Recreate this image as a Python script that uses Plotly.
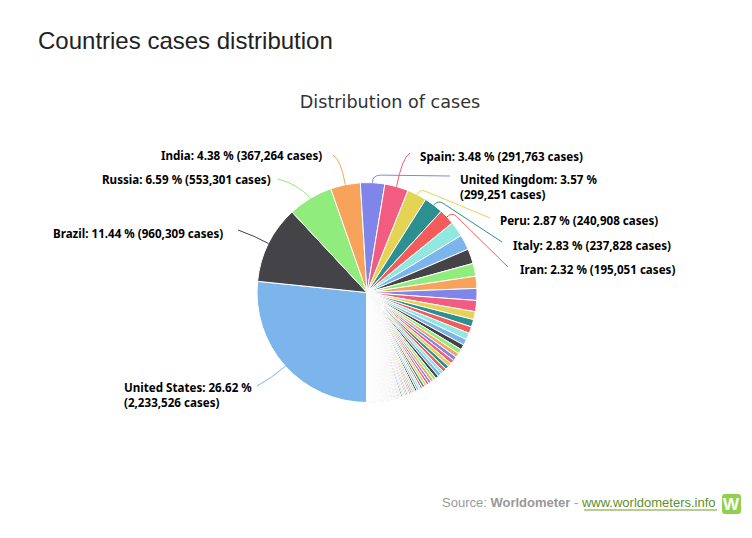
import math
import plotly.graph_objects as go

W, H = 752, 538

countries = ["United States", "Brazil", "Russia", "India", "United Kingdom", "Spain", "Peru", "Italy", "Iran"]
shares = ["26.62", "11.44", "6.59", "4.38", "3.57", "3.48", "2.87", "2.83", "2.32"]
cases = [2233526, 960309, 553301, 367264, 299251, 291763, 240908, 237828, 195051]

# remaining countries are unlabelled in the picture
other_cases = [
    187000, 186000, 183000, 158000, 150000, 147000, 138000, 98000, 92000, 83000,
    82000, 74000, 64000, 58000, 52000, 50000, 48000, 47000, 46000, 44000,
    42000, 40000, 39000, 37000, 36000, 32000, 31000, 31000, 30000, 26000,
    25000, 25000, 24000, 22000, 21000, 20000, 19000, 18000, 17000, 17000,
    17000, 17000, 17000, 16000, 15000, 14000, 13000, 12000, 12000, 12000,
    12000, 12000, 11000, 11000, 10000, 10000, 9500, 9000, 9000, 9000,
    9000, 8500, 8000, 8000, 8000, 7500, 7300, 7000, 6500, 6000,
    6000, 5300, 5200, 5000, 4700, 4100, 4000, 3900, 3800, 3700,
    3600, 3500, 3400, 3300, 3200, 3100, 3000, 2900, 2800, 2700,
    2600, 2500, 2400, 2300, 2200, 2100, 2000, 1950, 1900, 1850,
    1800, 1750, 1700, 1650, 1600, 1550, 1500, 1450, 1400, 1350,
    1300, 1250, 1200, 1180, 1150, 1100, 1080, 1050, 1020, 1000,
    980, 950, 920, 900, 880, 850, 820, 800, 780, 760,
    740, 720, 700, 680, 660, 640, 620, 600, 590, 570,
    550, 530, 510, 490, 470, 450, 430, 410, 390, 370,
    350, 330, 310, 290, 270, 250, 230, 210, 190, 170,
    150, 130, 110, 90, 70, 50, 30, 20, 13, 10,
]
values = cases + other_cases

palette = ["#7cb5ec", "#434348", "#90ed7d", "#f7a35c", "#8085e9",
           "#f15c80", "#e4d354", "#2b908f", "#f45b5b", "#91e8e1"]
colors = [palette[i % len(palette)] for i in range(len(values))]

# pixel layout of the pie and the labels
CX, CY, R = 367, 292.5, 110
# label left edge, label centre y, connector control point, connector end, how far the curve runs
label_pos = {
    "United States": (123, 395, (272, 378), (257, 386), 1),
    "Brazil": (52, 233, (255, 236), (238, 230), 1),
    "Russia": (101, 180, (298, 184), (278, 179), 1),
    "India": (160, 155, (341, 160), (333, 155), 1),
    "United Kingdom": (459, 187, (372, 175), (450, 176), 0.12),
    "Spain": (419, 156, (402, 158), (410, 153), 1),
    "Peru": (499, 221, (420, 189), (490, 218), 0.08),
    "Italy": (512, 245, (438, 200), (502, 242), 0.08),
    "Iran": (519, 269, (452, 212), (508, 267), 0.08),
}
two_line = {"United States", "United Kingdom"}


def px(x):
    return x / W


def py(y):
    return 1 - y / H


fig = go.Figure(go.Pie(
    values=values,
    sort=False,
    direction="clockwise",
    rotation=180,
    textinfo="none",
    hoverinfo="percent+value",
    marker=dict(colors=colors, line=dict(color="#ffffff", width=1)),
    domain=dict(x=[px(CX - R), px(CX + R)], y=[py(CY + R), py(CY - R)]),
    showlegend=False,
))

annotations = []
shapes = []
total = sum(values)
run = 0
for i, name in enumerate(countries):
    mid = 180 + (run + cases[i] / 2) / total * 360
    run += cases[i]
    sx = CX + R * math.sin(math.radians(mid))
    sy = CY - R * math.cos(math.radians(mid))
    lx, ly, ctrl, end, t = label_pos[name]
    qx = ctrl[0] + (end[0] - ctrl[0]) * t
    qy = ctrl[1] + (end[1] - ctrl[1]) * t
    path = f"M {px(sx)} {py(sy)} Q {px(ctrl[0])} {py(ctrl[1])} {px(qx)} {py(qy)} L {px(end[0])} {py(end[1])}"
    shapes.append(dict(type="path", path=path, xref="paper", yref="paper",
                       line=dict(color=colors[i], width=1)))
    if name in two_line:
        text = f"<b>{name}: {shares[i]} %<br>({cases[i]:,} cases)</b>"
    else:
        text = f"<b>{name}: {shares[i]} % ({cases[i]:,} cases)</b>"
    annotations.append(dict(
        x=px(lx), y=py(ly), xref="paper", yref="paper", text=text, showarrow=False,
        xanchor="left", yanchor="middle", align="left", borderpad=0,
        font=dict(family="Noto Sans", size=11.6, color="#000000"),
    ))

# page heading
annotations.append(dict(
    x=px(37), y=py(41), xref="paper", yref="paper", text="Countries cases distribution",
    showarrow=False, xanchor="left", yanchor="middle", borderpad=0,
    font=dict(family="Liberation Sans", size=24, color="#222222"),
))

# source line
annotations.append(dict(
    x=px(717), y=py(502), xref="paper", yref="paper",
    text='Source: <b>Worldometer</b> - <span style="color:#5f8f2a">www.worldometers.info</span>',
    showarrow=False, xanchor="right", yanchor="middle", borderpad=0,
    font=dict(family="Liberation Sans", size=13, color="#999999"),
))
shapes.append(dict(type="line", xref="paper", yref="paper", x0=px(584), x1=px(717), y0=py(510), y1=py(510),
                   line=dict(color="#6d9d20", width=1)))

# worldometer badge
x0, x1, y0, y1, r = 722, 741, 494, 514, 3
badge = (f"M {px(x0 + r)} {py(y0)} L {px(x1 - r)} {py(y0)} Q {px(x1)} {py(y0)} {px(x1)} {py(y0 + r)} "
         f"L {px(x1)} {py(y1 - r)} Q {px(x1)} {py(y1)} {px(x1 - r)} {py(y1)} "
         f"L {px(x0 + r)} {py(y1)} Q {px(x0)} {py(y1)} {px(x0)} {py(y1 - r)} "
         f"L {px(x0)} {py(y0 + r)} Q {px(x0)} {py(y0)} {px(x0 + r)} {py(y0)} Z")
shapes.append(dict(type="path", path=badge, xref="paper", yref="paper", fillcolor="#8fd14f", line=dict(width=0)))
annotations.append(dict(
    x=px(731.5), y=py(504), xref="paper", yref="paper", text="<b>W</b>", showarrow=False,
    xanchor="center", yanchor="middle", borderpad=0,
    font=dict(family="Liberation Sans", size=17, color="#ffffff"),
))

fig.update_layout(
    width=W,
    height=H,
    margin=dict(l=0, r=0, t=0, b=0),
    paper_bgcolor="#ffffff",
    title=dict(
        text="Distribution of cases",
        x=px(390), y=py(102), xref="paper", yref="paper", xanchor="center", yanchor="middle",
        font=dict(family="DejaVu Sans", size=17.6, color="#333333"),
    ),
    annotations=annotations,
    shapes=shapes,
)

fig.write_html("out.html", config=dict(displayModeBar=False), post_script="document.body.style.margin='0';")
